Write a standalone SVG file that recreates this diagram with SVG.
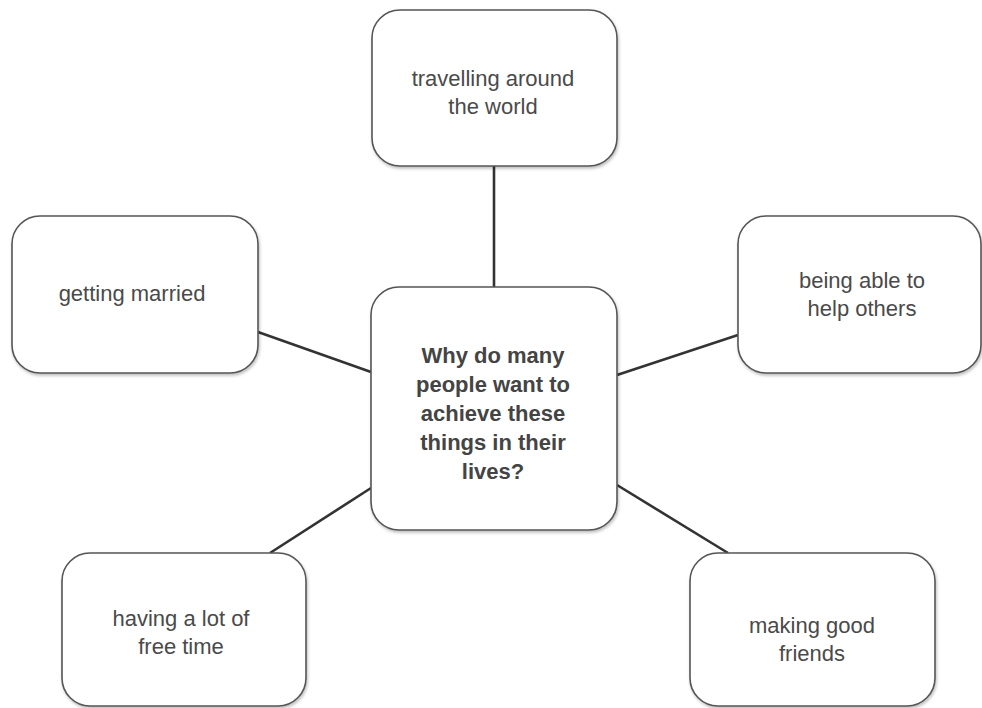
<svg xmlns="http://www.w3.org/2000/svg" width="982" height="708" viewBox="0 0 982 708">
<style>
.box{fill:#fff;stroke:#555;stroke-width:1.6;filter:url(#sh)}
.t{font-family:"Liberation Sans",Arial,sans-serif;font-size:22px;fill:#4a4a4a;text-anchor:middle}
.b{font-weight:bold;fill:#444}
.c{stroke:#333;stroke-width:2.6;fill:none}
</style>
<defs>
<filter id="sh" x="-10%" y="-10%" width="120%" height="120%">
<feDropShadow dx="1" dy="2" stdDeviation="1.5" flood-color="#000" flood-opacity="0.25"/>
</filter>
</defs>
<rect width="982" height="708" fill="#fff"/>
<g id="connectors">
<line class="c" x1="494" y1="166" x2="494" y2="287"/>
<line class="c" x1="258" y1="332" x2="371" y2="372"/>
<line class="c" x1="738" y1="335" x2="617" y2="375"/>
<line class="c" x1="371" y1="488" x2="270" y2="553"/>
<line class="c" x1="617" y1="485" x2="728" y2="553"/>
</g>
<g id="travel">
<rect class="box" x="372" y="10" width="245" height="156" rx="28"/>
<text class="t" x="493" y="86">travelling around</text>
<text class="t" x="493" y="114">the world</text>
</g>
<g id="married">
<rect class="box" x="12" y="216" width="246" height="157" rx="28"/>
<text class="t" x="132" y="301">getting married</text>
</g>
<g id="help">
<rect class="box" x="738" y="216" width="243" height="157" rx="28"/>
<text class="t" x="862" y="288">being able to</text>
<text class="t" x="862" y="316">help others</text>
</g>
<g id="center">
<rect class="box" x="371" y="287" width="246" height="243" rx="28"/>
<text class="t b" x="493" y="363">Why do many</text>
<text class="t b" x="493" y="392">people want to</text>
<text class="t b" x="493" y="421">achieve these</text>
<text class="t b" x="493" y="450">things in their</text>
<text class="t b" x="493" y="479">lives?</text>
</g>
<g id="freetime">
<rect class="box" x="62" y="553" width="244" height="153" rx="28"/>
<text class="t" x="181" y="626">having a lot of</text>
<text class="t" x="181" y="654">free time</text>
</g>
<g id="friends">
<rect class="box" x="690" y="553" width="245" height="153" rx="28"/>
<text class="t" x="812" y="633">making good</text>
<text class="t" x="812" y="661">friends</text>
</g>
</svg>
